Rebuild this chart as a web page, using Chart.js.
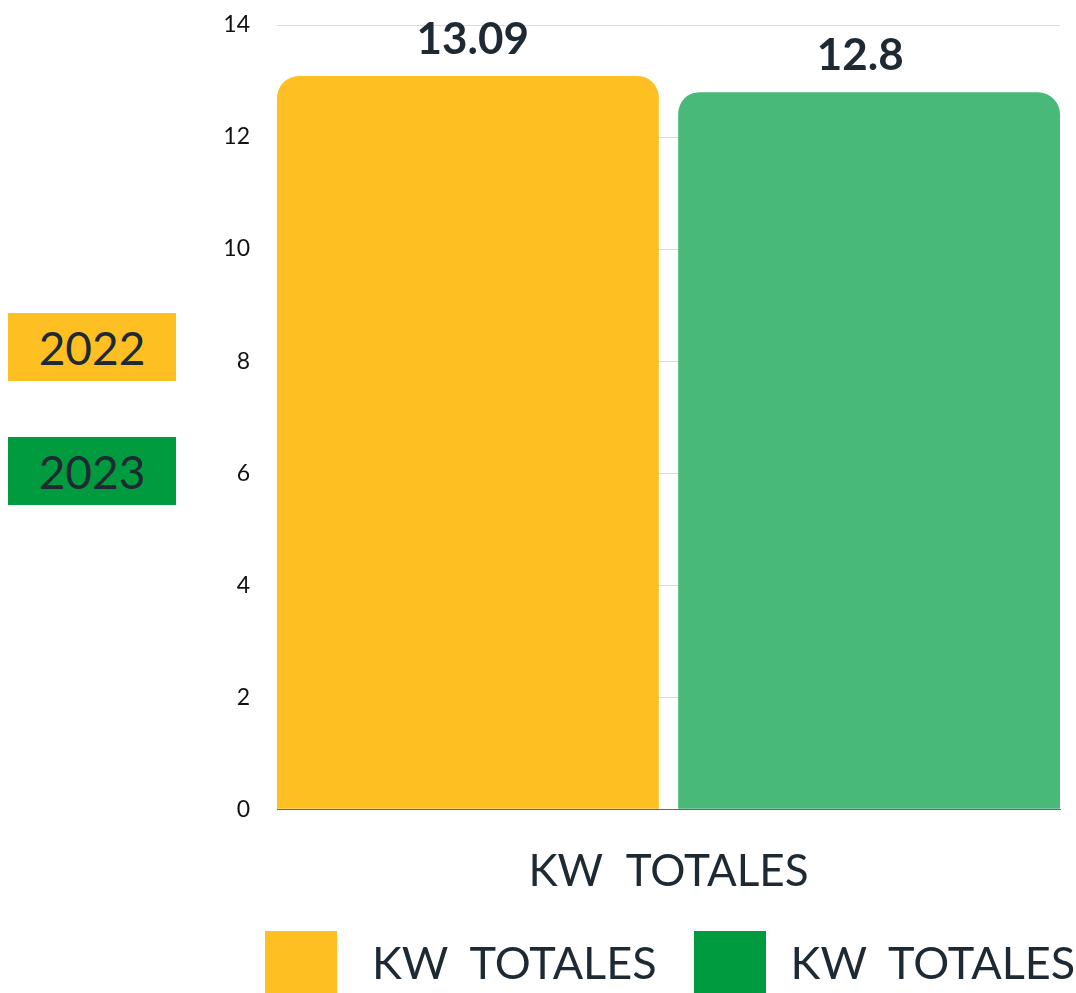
<!DOCTYPE html>
<html>
<head>
<meta charset="utf-8">
<script src="https://cdn.jsdelivr.net/npm/chart.js@4/dist/chart.umd.min.js"></script>
<style>
  html, body { margin: 0; padding: 0; background: #fff; overflow: hidden; }
  #wrap { position: relative; width: 1076px; height: 993px; }
  .year {
    position: absolute; left: 8px; width: 168px; height: 68px;
    font-family: Lato, sans-serif; font-size: 46px; color: #1e2a33;
    display: flex; align-items: center; justify-content: center;
  }
  #legend {
    position: absolute; left: 265px; top: 931px; height: 62px;
    display: flex; align-items: center;
    font-family: Lato, sans-serif; font-size: 45px; color: #1e2a33;
    white-space: pre;
  }
  #legend .box { width: 72px; height: 62px; }
  #legend .box:nth-child(1) { margin-right: 35px; }
  #legend .txt:nth-child(2) { margin-right: 37px; }
  #legend .box:nth-child(3) { margin-right: 25px; }
</style>
</head>
<body>
<div id="wrap">
  <canvas id="kwChart" width="1076" height="993"></canvas>
  <div id="legend"></div>
</div>
<script>
// data
const categories = ['KW  TOTALES'];
const seriesNames = ['KW  TOTALES', 'KW  TOTALES'];
const values2022 = [13.09];
const values2023 = [12.8];
const yearLabels = ['2022', '2023'];
const yMax = 14;
const yStep = 2;

const yellow = '#fdbf21';
const barGreen = '#48b978';
const darkGreen = '#009b3f';
const textColor = '#1e2a33';

const wrap = document.getElementById('wrap');

// year badges on the left
const yearColors = [yellow, darkGreen];
const yearTops = [313, 437];
yearLabels.forEach((y, i) => {
    const d = document.createElement('div');
    d.className = 'year';
    d.textContent = y;
    d.style.top = yearTops[i] + 'px';
    d.style.background = yearColors[i];
    wrap.appendChild(d);
});

// legend below the chart
const legendColors = [yellow, darkGreen];
const legendEl = document.getElementById('legend');
seriesNames.forEach((name, i) => {
    const box = document.createElement('div');
    box.className = 'box';
    box.style.background = legendColors[i];
    const txt = document.createElement('div');
    txt.className = 'txt';
    txt.textContent = name;
    legendEl.appendChild(box);
    legendEl.appendChild(txt);
});

// value labels above bars
const valueLabels = {
    id: 'valueLabels',
    afterDatasetsDraw(chart) {
        const ctx = chart.ctx;
        ctx.save();
        ctx.font = 'bold 44px Lato, sans-serif';
        ctx.fillStyle = textColor;
        ctx.textAlign = 'center';
        ctx.textBaseline = 'alphabetic';
        chart.data.datasets.forEach((ds, i) => {
            const meta = chart.getDatasetMeta(i);
            meta.data.forEach((bar, j) => {
                const cx = i === 0 ? bar.x : bar.x - 4;
                ctx.fillText(String(ds.data[j]), cx, bar.y - 22);
            });
        });
        ctx.restore();
    }
};

new Chart(document.getElementById('kwChart'), {
    type: 'bar',
    data: {
        labels: categories,
        datasets: [
            {
                label: seriesNames[0],
                data: values2022,
                backgroundColor: yellow,
                borderColor: 'rgba(0,0,0,0)',
                borderWidth: {left: 0, right: 10, top: 0, bottom: 0},
                borderRadius: {topLeft: 22, topRight: 32},
                borderSkipped: 'bottom'
            },
            {
                label: seriesNames[1],
                data: values2023,
                backgroundColor: barGreen,
                borderColor: 'rgba(0,0,0,0)',
                borderWidth: {left: 10, right: 0, top: 0, bottom: 0},
                borderRadius: {topLeft: 32, topRight: 22},
                borderSkipped: 'bottom'
            }
        ]
    },
    options: {
        responsive: false,
        animation: false,
        layout: { padding: { left: 200, right: 16, top: 25, bottom: 67 } },
        datasets: { bar: { categoryPercentage: 1, barPercentage: 1 } },
        scales: {
            x: {
                grid: { display: false },
                border: { display: true, color: '#666' },
                ticks: {
                    color: textColor,
                    padding: 28,
                    font: { family: 'Lato', size: 44 }
                }
            },
            y: {
                min: 0,
                max: yMax,
                afterFit(scale) {
                    scale.width = 77;
                    scale.paddingTop = 14;
                    scale.paddingBottom = 14;
                },
                border: { display: false },
                grid: { color: '#d9d9d9', drawTicks: false },
                ticks: {
                    stepSize: yStep,
                    color: '#111',
                    padding: 27,
                    font: { family: 'Lato', size: 23 }
                }
            }
        },
        plugins: {
            tooltip: { enabled: false },
            legend: { display: false }
        }
    },
    plugins: [valueLabels]
});
</script>
</body>
</html>
